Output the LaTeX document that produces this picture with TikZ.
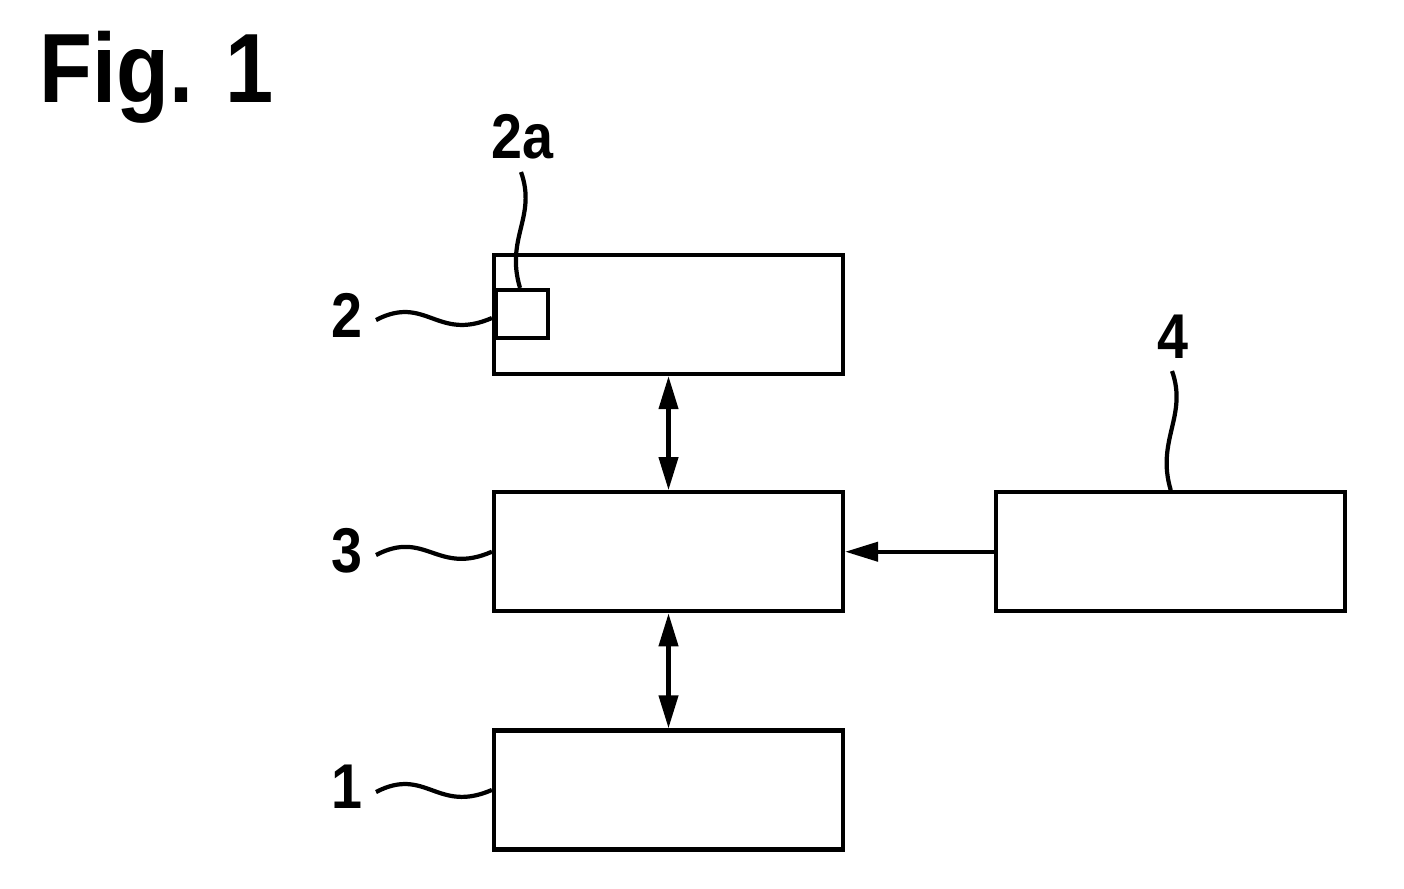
\documentclass[tikz,border=0pt]{standalone}
\usepackage{fontspec}
\setmainfont{Liberation Sans}[FakeStretch=0.88]
\usetikzlibrary{positioning,arrows.meta}
\begin{document}
\begin{tikzpicture}[line width=1.2pt,
  every node/.style={font=\bfseries\fontsize{18}{20}\selectfont},
  box/.style={draw, minimum width=3.49cm, minimum height=1.19cm, inner sep=0pt},
  smallbox/.style={draw, minimum width=0.52cm, minimum height=0.48cm, inner sep=0pt},
  leader/.style={line width=1.2pt},
  arr/.style={-{Triangle[length=3.3mm,width=1.9mm]}},
  dblarr/.style={{Triangle[length=3.3mm,width=1.9mm]}-{Triangle[length=3.3mm,width=1.9mm]}}]
  \useasboundingbox (0,0) rectangle (14.04,8.88);
  \node[anchor=base, font=\bfseries\fontsize{28}{30}\selectfont] (fig) at (1.57,7.86) {Fig. 1};
  % blocks
  \node[box] (b2) at (6.685,5.735) {};
  \node[box, below=1.14cm of b2] (b3) {};
  \node[box, below=1.15cm of b3] (b1) {};
  \node[box, right=1.49cm of b3] (b4) {};
  \node[smallbox, anchor=west] (b2a) at (4.94,5.74) {};
  % connections
  \draw[dblarr] (b2) -- (b3);
  \draw[dblarr] (b3) -- (b1);
  \draw[arr] (b4) -- (b3);
  % reference numerals
  \node[anchor=base] (n2) at (3.47,5.51) {2};
  \node[anchor=base] (n3) at (3.47,3.16) {3};
  \node[anchor=base] (n1) at (3.47,0.80) {1};
  \node[anchor=base] (n4) at (11.73,5.30) {4};
  \node[anchor=base] (n2a) at (5.22,7.30) {2a};
  \coordinate (l2) at (3.76,5.68);
  \coordinate (l3) at (3.76,3.33);
  \coordinate (l1) at (3.76,0.96);
  \coordinate (l4) at (11.72,5.17);
  \coordinate (l2a) at (5.21,7.16);
  \draw[leader] (l2) .. controls +(0.5,0.26) and +(-0.55,-0.24) .. (b2.west |- 0,5.70);
  \draw[leader] (l3) .. controls +(0.5,0.26) and +(-0.55,-0.24) .. (b3.west);
  \draw[leader] (l1) .. controls +(0.5,0.26) and +(-0.55,-0.24) .. (b1.west);
  \draw[leader] (l4) .. controls +(0.16,-0.45) and +(-0.15,0.5) .. (b4.north);
  \draw[leader] (l2a) .. controls +(0.16,-0.45) and +(-0.15,0.5) .. (b2a.north -| 5.20,0);
\end{tikzpicture}
\end{document}
